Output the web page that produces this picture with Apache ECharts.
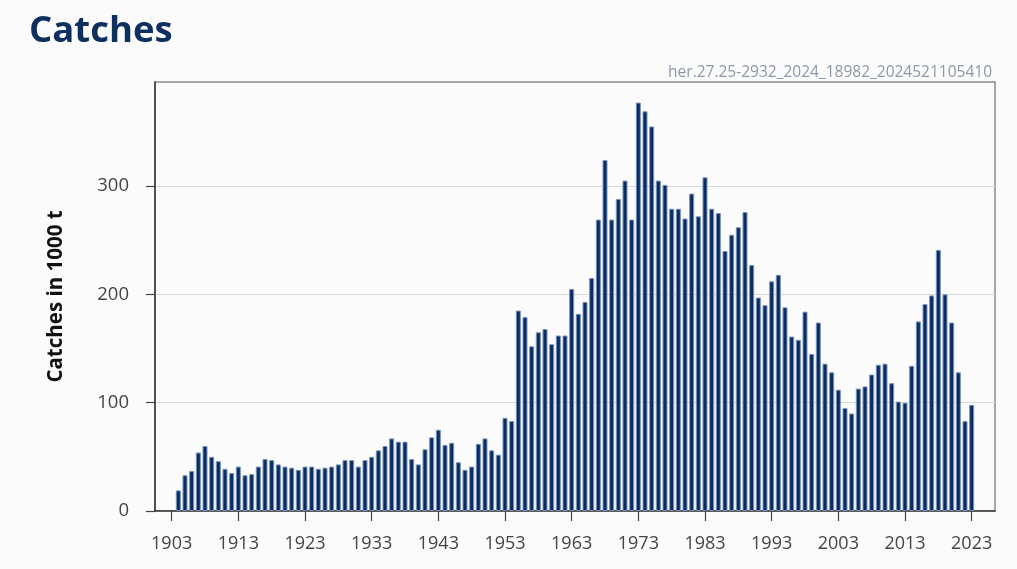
<!DOCTYPE html>
<html>
<head>
<meta charset="utf-8">
<script src="https://cdn.jsdelivr.net/npm/echarts@6/dist/echarts.min.js"></script>
<style>
  html, body { margin: 0; padding: 0; background: #fbfbfb; }
  #chart { width: 1017px; height: 569px; }
</style>
</head>
<body>
<div id="chart"></div>
<script>
// catches in 1000 t, one value per year (1903 has no bar)
var years = [];
for (var y = 1903; y <= 2023; y++) years.push(y);

var catches = [
  null, 19, 33, 37, 54, 60, 50, 46, 39, 35,
  41, 33, 34, 41, 48, 47, 43, 41, 40, 38,
  41, 41, 39, 40, 41, 43, 47, 47, 41, 47,
  50, 56, 60, 67, 64, 64, 48, 43, 57, 68,
  75, 61, 63, 45, 38, 41, 62, 67, 56, 52,
  86, 83, 185, 179, 152, 165, 168, 154, 162, 162,
  205, 182, 193, 215, 269, 324, 269, 288, 305, 269,
  377, 369, 355, 305, 301, 279, 279, 270, 293, 272,
  308, 279, 275, 240, 255, 262, 276, 227, 197, 190,
  212, 218, 188, 161, 158, 184, 145, 174, 136, 128,
  112, 95, 90, 113, 115, 126, 135, 136, 118, 101,
  100, 134, 175, 191, 199, 241, 200, 174, 128, 83,
  98
];

var yTicks = [0, 100, 200, 300];
var labelStep = 10;
var firstLabel = 1903;

// pad the category axis a little on both sides, like the original frame
var cats = [];
for (var c = years[0] - 2; c <= years[years.length - 1] + 3; c++) cats.push(String(c));
var barData = cats.map(function (c) {
  var i = years.indexOf(+c);
  return i < 0 ? null : catches[i];
});

function isLabelYear(idx, val) {
  return (+val - firstLabel) % labelStep === 0 && +val >= firstLabel && +val <= years[years.length - 1];
}

var chart = echarts.init(document.getElementById('chart'));
chart.setOption({
  backgroundColor: '#fbfbfb',
  animation: false,
  title: [{
    text: 'Catches',
    left: 24,
    top: 8,
    textStyle: { fontFamily: 'Open Sans', fontWeight: 'bold', fontSize: 36.5, color: '#0f2f5f' }
  }, {
    text: 'her.27.25-2932_2024_18982_2024521105410',
    right: 20,
    top: 60,
    textStyle: { fontFamily: 'Open Sans', fontWeight: 'normal', fontSize: 15.5, color: '#8d97a8' }
  }],
  grid: { left: 155, right: 22, top: 82, bottom: 58, show: true, borderColor: '#8a8a8a', borderWidth: 1.5 },
  xAxis: {
    type: 'category',
    data: cats,
    boundaryGap: true,
    axisLine: { lineStyle: { color: '#333', width: 1.5 } },
    axisTick: { show: true, alignWithLabel: true, interval: isLabelYear, length: 10, lineStyle: { color: '#444', width: 1.2 } },
    axisLabel: { interval: isLabelYear, margin: 24, fontFamily: 'Open Sans', fontSize: 18, color: '#444' },
    splitLine: { show: false }
  },
  yAxis: {
    type: 'value',
    min: 0,
    max: 396,
    interval: 100,
    name: 'Catches in 1000 t',
    nameLocation: 'middle',
    nameGap: 88,
    nameTextStyle: { fontFamily: 'Open Sans', fontWeight: 'bold', fontSize: 20.5, color: '#111' },
    axisLine: { show: true, lineStyle: { color: '#333', width: 1.5 } },
    axisTick: { show: true, length: 9, customValues: yTicks, lineStyle: { color: '#444', width: 1.2 } },
    axisLabel: {
      margin: 26, fontFamily: 'Open Sans', fontSize: 18.5, color: '#444',
      customValues: yTicks
    },
    splitLine: { show: true, lineStyle: { color: '#d9d9d9', width: 1 } }
  },
  series: [{
    type: 'bar',
    data: barData,
    barWidth: 5,
    itemStyle: { color: '#0a2c62', borderColor: '#7893bb', borderWidth: 1 }
  }]
});
</script>
</body>
</html>
